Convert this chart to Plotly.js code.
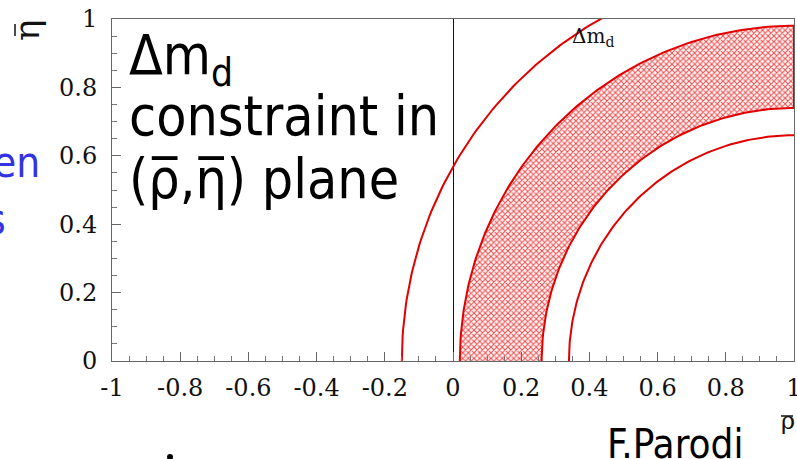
<!DOCTYPE html>
<html>
<head>
<meta charset="utf-8">
<script src="https://cdn.plot.ly/plotly-3.0.1.min.js"></script>
<style>html,body{margin:0;padding:0;background:#fff;}#chart{width:797px;height:459px;}</style>
</head>
<body>
<div id="chart"></div>
<script>
// ---- data ----
const circleCenter = [1, 0];            // (rho-bar, eta-bar) centre of the Δm_d circles
const outerCircleRadius = [1.15];       // outer limit line
const bandRadii = [0.98, 0.74];         // hatched band (outer, inner)
const innerCircleRadius = [0.66];       // inner limit line
const xTickVals = [-1, -0.8, -0.6, -0.4, -0.2, 0, 0.2, 0.4, 0.6, 0.8, 1];
const xTickText = ["-1", "-0.8", "-0.6", "-0.4", "-0.2", "0", "0.2", "0.4", "0.6", "0.8", "1"];
const yTickVals = [0, 0.2, 0.4, 0.6, 0.8, 1];
const yTickText = ["0", "0.2", "0.4", "0.6", "0.8", "1"];

// quarter arc of a circle around the centre, from the rho axis up to rho = centre
function arc(r, reverse) {
  const xs = [], ys = [], n = 120;
  for (let i = 0; i <= n; i++) {
    const t = (reverse ? (n - i) : i) / n * Math.PI / 2;
    xs.push(circleCenter[0] - r * Math.cos(t));
    ys.push(circleCenter[1] + r * Math.sin(t));
  }
  return {x: xs, y: ys};
}

const red = 'rgb(225,0,0)';
const outerArc = arc(outerCircleRadius[0], false);
const bandOut = arc(bandRadii[0], false);
const bandIn = arc(bandRadii[1], true);
const innerArc = arc(innerCircleRadius[0], false);

const traces = [
  {x: bandOut.x.concat(bandIn.x), y: bandOut.y.concat(bandIn.y), type: 'scatter', mode: 'lines',
   fill: 'toself', fillcolor: 'rgba(255,255,255,0)',
   fillpattern: {shape: 'x', fgcolor: 'rgba(232,60,60,0.9)', bgcolor: 'rgba(255,245,245,1)', size: 4, solidity: 0.45},
   line: {color: red, width: 2}, hoverinfo: 'skip'},
  {x: outerArc.x, y: outerArc.y, type: 'scatter', mode: 'lines', line: {color: red, width: 2}, hoverinfo: 'skip'},
  {x: innerArc.x, y: innerArc.y, type: 'scatter', mode: 'lines', line: {color: red, width: 2}, hoverinfo: 'skip'}
];

// pixel -> paper helpers (plot area: x 112..794, y 19..361)
const L = 112, R = 794, T = 19, B = 361;
const px = v => (v - L) / (R - L);
const py = v => (B - v) / (B - T);

const sansC = 'DejaVu Sans Condensed, DejaVu Sans, sans-serif';
const serif = 'DejaVu Serif, serif';
const bigFont = {family: sansC, size: 55, color: '#000'};
const annotations = [
  {text: 'Δm<sub>d</sub>', x: px(127), y: py(97), xref: 'paper', yref: 'paper', xanchor: 'left', yanchor: 'bottom', showarrow: false, font: bigFont},
  {text: 'constraint in', x: px(127), y: py(150), xref: 'paper', yref: 'paper', xanchor: 'left', yanchor: 'bottom', showarrow: false, font: bigFont},
  {text: '(ρ\u0305,η\u0305) plane', x: px(127), y: py(213), xref: 'paper', yref: 'paper', xanchor: 'left', yanchor: 'bottom', showarrow: false, font: bigFont},
  {text: 'Δm<sub>d</sub>', x: px(570), y: py(52), xref: 'paper', yref: 'paper', xanchor: 'left', yanchor: 'bottom', showarrow: false,
   font: {family: serif, size: 20, color: '#111'}},
  {text: 'η', x: px(26), y: py(30), xref: 'paper', yref: 'paper', xanchor: 'center', yanchor: 'middle', textangle: -90, showarrow: false,
   font: {family: serif, size: 36, color: '#111'}},
  {text: 'ρ', x: px(788), y: py(421), xref: 'paper', yref: 'paper', xanchor: 'center', yanchor: 'middle', showarrow: false,
   font: {family: serif, size: 24, color: '#111'}},
  {text: 'F.Parodi', x: px(605), y: py(419), xref: 'paper', yref: 'paper', xanchor: 'left', yanchor: 'top', showarrow: false,
   font: {family: sansC, size: 40, color: '#000'}},
  {text: 'en', x: px(42), y: py(189), xref: 'paper', yref: 'paper', xanchor: 'right', yanchor: 'bottom', showarrow: false,
   font: {family: sansC, size: 42, color: 'rgb(50,50,225)'}},
  {text: 's', x: px(8), y: py(246), xref: 'paper', yref: 'paper', xanchor: 'right', yanchor: 'bottom', showarrow: false,
   font: {family: sansC, size: 42, color: 'rgb(50,50,225)'}}
];

const shapes = [
  {type: 'circle', xref: 'paper', yref: 'paper', x0: px(167), x1: px(173), y0: py(460), y1: py(454), fillcolor: '#000', line: {width: 0}},
  // overbars of the axis symbols
  {type: 'line', xref: 'paper', yref: 'paper', x0: px(15), x1: px(15), y0: py(24), y1: py(36), line: {color: '#111', width: 1.5}},
  {type: 'line', xref: 'paper', yref: 'paper', x0: px(781), x1: px(793), y0: py(416), y1: py(416), line: {color: '#111', width: 1.5}}
];

const axisCommon = {
  showgrid: false, showline: true, linecolor: '#666', linewidth: 1, mirror: true,
  ticks: 'inside', ticklen: 9, tickwidth: 1, tickcolor: '#666',
  minor: {dtick: 0.05, ticks: 'inside', ticklen: 5, tickwidth: 1, tickcolor: '#777'},
  tickfont: {family: serif, size: 24, color: '#111'},
  ticklabeloverflow: 'allow',
  fixedrange: true
};

const layout = {
  width: 797, height: 459,
  margin: {l: L, r: 797 - R, t: T, b: 459 - B},
  paper_bgcolor: '#fff', plot_bgcolor: '#fff',
  showlegend: false,
  xaxis: Object.assign({}, axisCommon, {range: [-1, 1], tickvals: xTickVals, ticktext: xTickText,
    zeroline: true, zerolinecolor: '#111', zerolinewidth: 1, ticklabelstandoff: 5}),
  yaxis: Object.assign({}, axisCommon, {range: [0, 1], tickvals: yTickVals, ticktext: yTickText,
    zeroline: false, ticklabelstandoff: 9}),
  annotations: annotations,
  shapes: shapes
};

Plotly.newPlot('chart', traces, layout, {staticPlot: true, displayModeBar: false});
</script>
</body>
</html>
